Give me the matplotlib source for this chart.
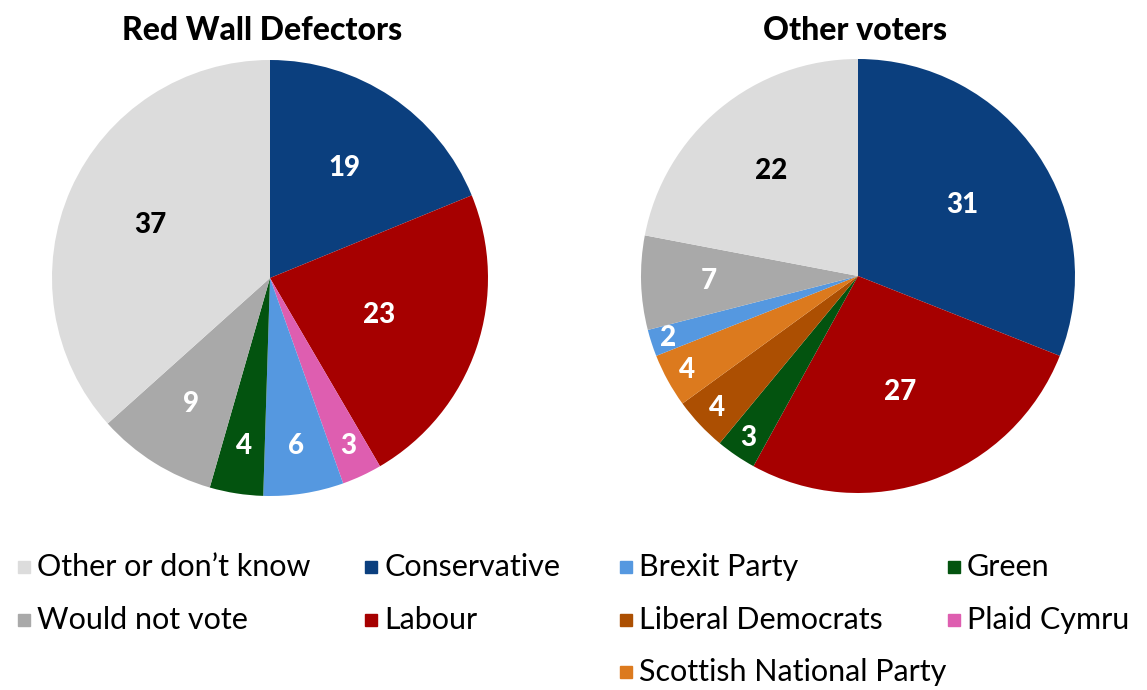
import numpy as np
import matplotlib
matplotlib.use("Agg")
from matplotlib import pyplot as plt
from matplotlib.patches import Rectangle

plt.rcParams['font.family'] = ['Lato', 'DejaVu Sans']

# vote shares, clockwise from 12 o'clock
rw_parties = ['Conservative', 'Labour', 'Plaid Cymru', 'Brexit Party', 'Green',
              'Would not vote', 'Other or don\u2019t know']
rw_values = [19, 23, 3, 6, 4, 9, 37]

ot_parties = ['Conservative', 'Labour', 'Green', 'Liberal Democrats',
              'Scottish National Party', 'Brexit Party', 'Would not vote',
              'Other or don\u2019t know']
ot_values = [31, 27, 3, 4, 4, 2, 7, 22]

colours = {
    'Conservative': '#0b3f7e',
    'Labour': '#a60000',
    'Brexit Party': '#5598e0',
    'Green': '#03530f',
    'Liberal Democrats': '#ac4f02',
    'Scottish National Party': '#dc7a1e',
    'Plaid Cymru': '#de5eb0',
    'Would not vote': '#a9a9a9',
    'Other or don\u2019t know': '#dcdcdc',
}

# how far out each number sits (fraction of radius)
rw_label_r = [0.61, 0.53, 0.85, 0.78, 0.78, 0.68, 0.60]
ot_label_r = [0.58, 0.57, 0.90, 0.89, 0.90, 0.92, 0.69, 0.63]

legend_rows = [
    ['Other or don\u2019t know', 'Conservative', 'Brexit Party', 'Green'],
    ['Would not vote', 'Labour', 'Liberal Democrats', 'Plaid Cymru'],
    [None, None, 'Scottish National Party', None],
]

W, H = 1147, 690
fig = plt.figure(figsize=(W / 100, H / 100), dpi=100)


def draw_pie(rect, parties, values, label_r, title, title_x):
    ax = fig.add_axes(rect)
    wedges, _ = ax.pie(values, colors=[colours[p] for p in parties],
                       startangle=90, counterclock=False, radius=1.0,
                       wedgeprops=dict(linewidth=0))
    for w, v, p, r in zip(wedges, values, parties, label_r):
        ang = np.deg2rad((w.theta1 + w.theta2) / 2)
        col = 'black' if p.startswith('Other') else 'white'
        ax.text(r * np.cos(ang), r * np.sin(ang), str(v), ha='center', va='center',
                fontsize=20, fontweight='black', color=col)
    ax.set_xlim(-1, 1)
    ax.set_ylim(-1, 1)
    ax.set_aspect('equal')
    ax.axis('off')
    fig.text(title_x / W, 1 - 30 / H, title, ha='center', va='center',
             fontsize=23, fontweight='black')


draw_pie([52 / W, (H - 278 - 218) / H, 436 / W, 436 / H],
         rw_parties, rw_values, rw_label_r, 'Red Wall Defectors', 262)
draw_pie([641 / W, (H - 276 - 217) / H, 434 / W, 434 / H],
         ot_parties, ot_values, ot_label_r, 'Other voters', 855)

# legend drawn by hand, four columns
col_x = [18, 365, 620, 948]
row_y = [567, 620, 672]
for row, y in zip(legend_rows, row_y):
    for name, x in zip(row, col_x):
        if name is None:
            continue
        fig.patches.append(Rectangle((x / W, (H - y - 6) / H), 12 / W, 12 / H,
                                     transform=fig.transFigure,
                                     color=colours[name]))
        fig.text((x + 19) / W, 1 - y / H, name, ha='left', va='center',
                 fontsize=22)

fig.savefig('out.png', dpi=100, facecolor='white')
